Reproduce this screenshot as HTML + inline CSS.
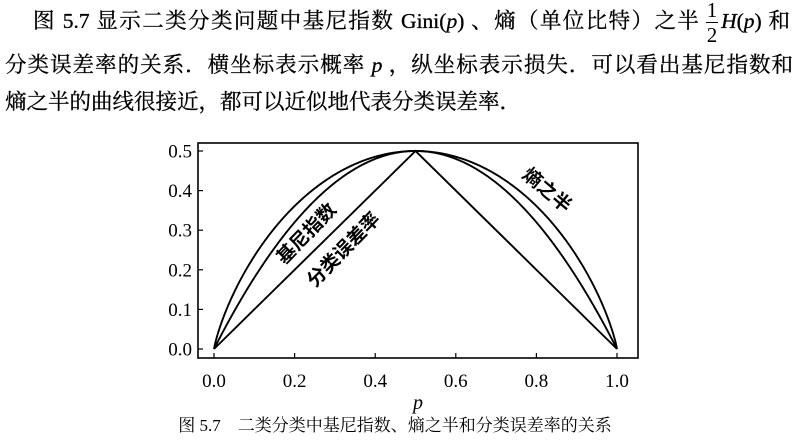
<!DOCTYPE html>
<html><head><meta charset="utf-8"><style>
body{margin:0;background:#fff;width:799px;height:445px;overflow:hidden;position:relative;font-family:"Liberation Serif","Noto Serif CJK SC",serif;color:#000}
.l{position:absolute;font-size:21.5px;white-space:nowrap;text-align:justify;text-align-last:justify;line-height:1;-webkit-text-stroke:0.3px #000}
i{font-family:"Liberation Serif",serif}
</style></head><body>
<div class="l" style="left:33px;top:11px;width:757px">图 5.7 显示二类分类问题中基尼指数 Gini(<i>p</i>) 、熵（单位比特）之半 <span style="display:inline-block;width:14px"></span><i>H</i>(<i>p</i>) 和</div>
<div style="position:absolute;left:705px;top:0px;font-size:21px;line-height:1;text-align:center;width:14px">1</div>
<div style="position:absolute;left:706px;top:22px;width:12px;border-top:1px solid #000"></div>
<div style="position:absolute;left:705px;top:25px;font-size:21px;line-height:1;text-align:center;width:14px">2</div>
<div class="l" style="left:5px;top:55px;width:788px">分类误差率的关系．横坐标表示概率 <i>p</i> ，纵坐标表示损失．可以看出基尼指数和</div>
<div class="l" style="left:5px;top:92px;width:505px">熵之半的曲线很接近，都可以近似地代表分类误差率．</div>
<svg width="799" height="445" style="position:absolute;left:0;top:0" id="s">
<rect x="198" y="143" width="440" height="215" fill="none" stroke="#000" stroke-width="1.6"/>
<g id="t" stroke="#000" stroke-width="1.2"></g>
<g id="c" fill="none" stroke="#000" stroke-width="1.9"></g>
<g font-family="Liberation Serif,serif" font-size="19" fill="#000" id="lab"></g>
<text x="418" y="409" font-family="Liberation Serif,serif" font-style="italic" font-size="20" text-anchor="middle">p</text>
<text x="395" y="431" font-family="Liberation Serif,Noto Serif CJK SC,serif" font-size="17" text-anchor="middle">图 5.7　二类分类中基尼指数、熵之半和分类误差率的关系</text>
<g font-family="Noto Sans CJK SC,sans-serif" font-size="19" font-weight="bold" fill="#000" text-anchor="middle">
<text transform="translate(311,238) rotate(-46)">基尼指数</text>
<text transform="translate(348,254) rotate(-46)">分类误差率</text>
<text transform="translate(543,195) rotate(40)">熵之半</text>
</g>
</svg>
<script>
var X=p=>214+403*p,Y=v=>349-396*v;
var t='',l='';
for(var i=0;i<=5;i++){var x=X(i*0.2);t+=`<line x1="${x}" y1="358" x2="${x}" y2="353"/>`;l+=`<text x="${x}" y="387" text-anchor="middle">${(i*0.2).toFixed(1)}</text>`;
var y=Y(i*0.1);t+=`<line x1="198" y1="${y}" x2="203" y2="${y}"/>`;l+=`<text x="192" y="${y+6.5}" text-anchor="end">${(i*0.1).toFixed(1)}</text>`;}
document.getElementById('t').innerHTML=t;document.getElementById('lab').innerHTML=l;
var g='',h='';
for(var k=0;k<=400;k++){var p=k/400;g+=(k?'L':'M')+X(p).toFixed(2)+','+Y(2*p*(1-p)).toFixed(2);
var e=(p<=0||p>=1)?0:-(p*Math.log2(p)+(1-p)*Math.log2(1-p))/2;h+=(k?'L':'M')+X(p).toFixed(2)+','+Y(e).toFixed(2);}
document.getElementById('c').innerHTML=`<path d="${g}"/><path d="${h}"/><path d="M${X(0)},${Y(0)}L${X(.5)},${Y(.5)}L${X(1)},${Y(0)}"/>`;
</script>
</body></html>
